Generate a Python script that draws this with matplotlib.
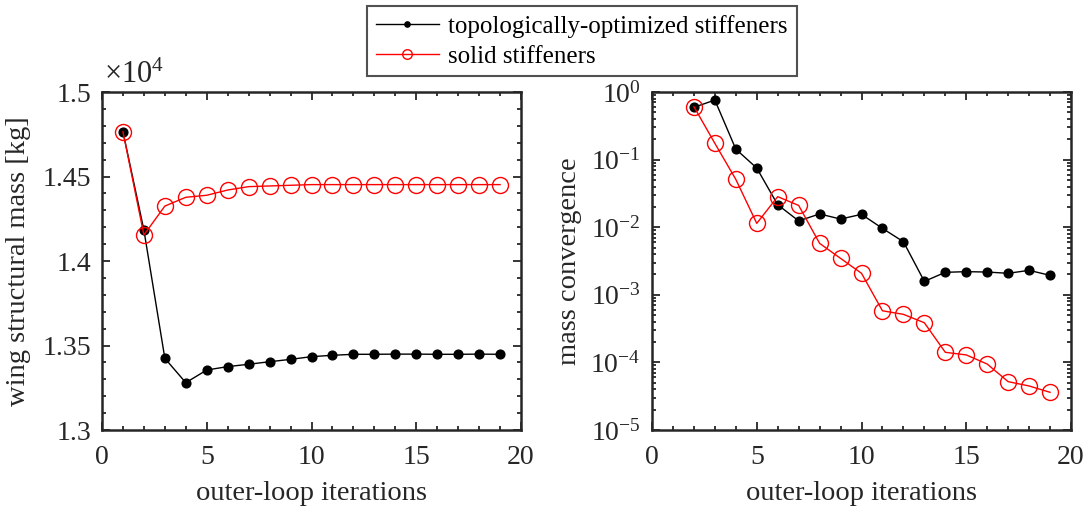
import matplotlib.pyplot as plt
import numpy as np
from matplotlib.ticker import MultipleLocator, LogLocator, NullFormatter, FuncFormatter

plt.rcParams['font.family'] = ['Liberation Serif', 'DejaVu Serif']
plt.rcParams['mathtext.fontset'] = 'custom'
plt.rcParams['mathtext.rm'] = 'Liberation Serif'
plt.rcParams['mathtext.it'] = 'Liberation Serif:italic'

# Data
iters_mass = list(range(1, 20))
mass_topo = [1.4765, 1.4183, 1.3424, 1.3280, 1.3355, 1.3375, 1.3389, 1.3404, 1.3418, 1.3434,
             1.3442, 1.3448, 1.3448, 1.3449, 1.3449, 1.3448, 1.3448, 1.3449, 1.3448]
mass_solid = [1.4765, 1.4154, 1.4325, 1.4377, 1.4389, 1.4420, 1.4440, 1.4444, 1.4448, 1.4452,
              1.4452, 1.4452, 1.4452, 1.4452, 1.4452, 1.4452, 1.4452, 1.4452, 1.4452]

iters_conv = list(range(2, 20))
conv_topo = [0.593, 0.76, 0.143, 0.075, 0.0215, 0.0124, 0.0157, 0.0132, 0.0155, 0.0096,
             0.0061, 0.00158, 0.00215, 0.0022, 0.00217, 0.00208, 0.0023, 0.00194]
conv_solid = [0.607, 0.174, 0.051, 0.0114, 0.0283, 0.021, 0.00577, 0.00346, 0.00208, 0.00058,
              0.000514, 0.000386, 0.000141, 0.000129, 9.46e-5, 5.19e-5, 4.48e-5, 3.61e-5]

mass_ticks = [1.3, 1.35, 1.4, 1.45, 1.5]
mass_ticklabels = ['1.3', '1.35', '1.4', '1.45', '1.5']

label_topo = 'topologically-optimized stiffeners'
label_solid = 'solid stiffeners'

fs = 20
axis_col = '#262626'

fig = plt.figure(figsize=(10.88, 5.12), dpi=100)
ax1 = fig.add_axes([102/1088, 82/512, 419/1088, 338/512])
ax2 = fig.add_axes([652/1088, 82/512, 419/1088, 338/512])

def style(ax):
    for s in ax.spines.values():
        s.set_linewidth(1.8)
        s.set_color(axis_col)
    ax.tick_params(which='both', direction='in', top=True, right=True,
                   colors=axis_col, labelcolor='#262626', labelsize=fs, width=1.3)
    ax.tick_params(which='major', length=5.5)
    ax.tick_params(which='minor', length=3)
    ax.tick_params(axis='x', which='major', pad=11)
    ax.tick_params(axis='y', which='major', pad=8)
    ax.set_xlim(0, 20)
    ax.xaxis.set_major_locator(MultipleLocator(5))
    ax.xaxis.set_minor_locator(MultipleLocator(1))
    ax.set_xlabel('outer-loop iterations', fontsize=fs + 0.5, color='#262626', labelpad=8)

# Left: mass
l1, = ax1.plot(iters_mass, mass_topo, '-o', color='black', lw=1.0, ms=6.3, mfc='black', mec='black')
l2, = ax1.plot(iters_mass, mass_solid, '-o', color='red', lw=1.0, ms=11.5, mfc='none', mec='red', mew=1.0)
ax1.set_ylim(1.3, 1.5)
ax1.yaxis.set_minor_locator(MultipleLocator(0.01))
ax1.set_yticks(mass_ticks)
ax1.set_yticklabels(mass_ticklabels)
ax1.set_ylabel('wing structural mass [kg]', fontsize=fs + 0.5, color='#262626', labelpad=8)
style(ax1)
ax1.text(0.005, 1.005, r'$\times 10^{4}$', transform=ax1.transAxes, fontsize=22,
         ha='left', va='bottom', color=axis_col)

# Right: convergence
ax2.plot(iters_conv, conv_topo, '-o', color='black', lw=1.0, ms=6.3, mfc='black', mec='black')
ax2.plot(iters_conv, conv_solid, '-o', color='red', lw=1.0, ms=11.5, mfc='none', mec='red', mew=1.0)
ax2.set_yscale('log')
ax2.set_ylim(1e-5, 1)
ax2.yaxis.set_major_locator(LogLocator(base=10, numticks=10))
ax2.yaxis.set_major_formatter(FuncFormatter(lambda v, p: r'$10^{%d}$' % round(np.log10(v))))
ax2.yaxis.set_minor_locator(LogLocator(base=10, subs=np.arange(2, 10), numticks=10))
ax2.yaxis.set_minor_formatter(NullFormatter())
ax2.set_ylabel('mass convergence', fontsize=fs + 0.5, color='#262626', labelpad=6)
style(ax2)

leg = fig.legend([l1, l2], [label_topo, label_solid], loc='upper center',
                 bbox_to_anchor=(582/1088, 1 - 6/512), fontsize=18, markerscale=0.6,
                 frameon=True, fancybox=False, edgecolor=axis_col, handlelength=2.5,
                 borderpad=0.35, labelspacing=0.3, handletextpad=0.4, borderaxespad=0)
leg.get_frame().set_linewidth(1.5)

fig.savefig('out.png', dpi=100)
